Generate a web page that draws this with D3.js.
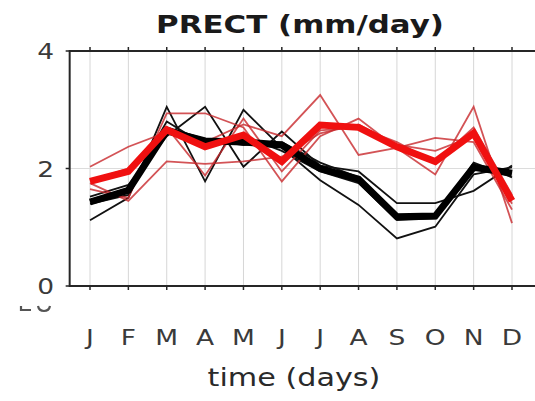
<!DOCTYPE html>
<html><head><meta charset="utf-8">
<script src="https://d3js.org/d3.v7.min.js"></script>
<style>html,body{margin:0;padding:0;background:#fff;overflow:hidden}</style>
</head><body>
<script>
const months = ["J","F","M","A","M","J","J","A","S","O","N","D"];
const yTicks = [0, 2, 4];
const title = "PRECT (mm/day)";
const xLabel = "time (days)";

const blackRun1 = [1.12, 1.50, 3.05, 1.78, 3.00, 2.35, 1.80, 1.38, 0.81, 1.01, 1.90, 2.02];
const blackRun2 = [1.52, 1.72, 2.55, 3.05, 2.03, 2.63, 2.05, 1.95, 1.41, 1.41, 1.62, 2.05];
const blackRun3 = [1.45, 1.65, 2.80, 2.40, 2.55, 2.30, 1.95, 1.75, 1.12, 1.15, 2.10, 1.85];
const blackRun4 = [1.40, 1.55, 2.70, 2.50, 2.40, 2.45, 2.10, 1.85, 1.20, 1.22, 2.05, 1.95];
const blackMean = [1.43, 1.63, 2.64, 2.47, 2.45, 2.40, 2.00, 1.82, 1.18, 1.19, 2.02, 1.92];

const redRun1 = [2.03, 2.37, 2.62, 2.45, 2.75, 2.55, 3.25, 2.23, 2.35, 2.52, 2.45, 1.30];
const redRun2 = [1.65, 1.50, 2.94, 2.94, 2.70, 1.78, 2.55, 2.85, 2.35, 1.90, 3.05, 1.07];
const redRun3 = [1.75, 1.45, 2.12, 2.08, 2.12, 2.20, 2.60, 2.75, 2.40, 2.30, 2.55, 1.40];
const redRun4 = [1.80, 2.00, 2.70, 1.88, 2.85, 1.95, 2.65, 2.70, 2.45, 2.10, 2.70, 1.55];
const redMean = [1.78, 1.95, 2.66, 2.37, 2.57, 2.12, 2.74, 2.70, 2.37, 2.12, 2.60, 1.45];

const W = 535, H = 401;
const SX = 1.26; // horizontal stretch of the original picture's text
const svg = d3.select("body").append("svg").attr("width", W).attr("height", H);

const x = d3.scaleLinear().domain([1, 12]).range([90, 512]);
const y = d3.scaleLinear().domain([0, 4]).range([286, 51]);
const x0 = x(0.47), x1 = W + 10;

// grid
svg.append("g").selectAll("line").data(months).join("line")
  .attr("x1", (d, i) => x(i + 1)).attr("x2", (d, i) => x(i + 1))
  .attr("y1", y(4)).attr("y2", y(0))
  .attr("stroke", "#d6d6d6").attr("stroke-width", 1);
svg.append("line").attr("x1", x0).attr("x2", x1).attr("y1", y(2)).attr("y2", y(2))
  .attr("stroke", "#dcdcdc").attr("stroke-width", 1);

const line = d3.line().x((d, i) => x(i + 1)).y(d => y(d));
const g = svg.append("g").attr("fill", "none").attr("stroke-linejoin", "miter").attr("stroke-linecap", "butt");
[blackRun1, blackRun2, blackRun3, blackRun4].forEach(s =>
  g.append("path").attr("d", line(s)).attr("stroke", "#111").attr("stroke-width", 1.8));
[redRun1, redRun2, redRun3, redRun4].forEach(s =>
  g.append("path").attr("d", line(s)).attr("stroke", "#c8282c").attr("stroke-opacity", 0.8).attr("stroke-width", 1.8));
g.append("path").attr("d", line(blackMean)).attr("stroke", "#000").attr("stroke-width", 7);
g.append("path").attr("d", line(redMean)).attr("stroke", "#f01010").attr("stroke-width", 7);

// axes frame
const axc = "#262626";
svg.append("line").attr("x1", x0).attr("x2", x1).attr("y1", y(4)).attr("y2", y(4)).attr("stroke", axc).attr("stroke-width", 2);
svg.append("line").attr("x1", x0).attr("x2", x1).attr("y1", y(0)).attr("y2", y(0)).attr("stroke", axc).attr("stroke-width", 2);
svg.append("line").attr("x1", x0).attr("x2", x0).attr("y1", y(4) - 1).attr("y2", y(0) + 1).attr("stroke", axc).attr("stroke-width", 2);

// ticks
const xt = svg.append("g").attr("stroke", axc).attr("stroke-width", 1.5);
months.forEach((m, i) => {
  xt.append("line").attr("x1", x(i + 1)).attr("x2", x(i + 1)).attr("y1", y(4)).attr("y2", y(4) - 4);
  xt.append("line").attr("x1", x(i + 1)).attr("x2", x(i + 1)).attr("y1", y(0)).attr("y2", y(0) + 4);
});
yTicks.forEach(t => xt.append("line").attr("x1", x0).attr("x2", x0 - 4).attr("y1", y(t)).attr("y2", y(t)));

function txt(px, py, s, size, anchor, weight, color) {
  return svg.append("text")
    .attr("transform", `translate(${px},${py}) scale(${SX},1)`)
    .attr("text-anchor", anchor)
    .attr("font-family", "DejaVu Sans, sans-serif")
    .attr("font-size", size).attr("font-weight", weight || "normal")
    .attr("fill", color || "#333").text(s);
}

// y tick labels
yTicks.forEach(t => txt(54, y(t) + 8, String(t), 21, "end", "normal", "#3a3a3a"));
// x tick labels
months.forEach((m, i) => txt(x(i + 1), 345, m, 21, "middle", "normal", "#3a3a3a"));
// title & label
txt(300, 33, title, 24.5, "middle", "bold", "#1a1a1a");
txt(294, 386, xLabel, 24, "middle", "normal", "#2a2a2a");

// illegible clipped remnant of a neighbouring panel's label (bottom edges of glyphs only)
const rem = svg.append("g").attr("fill", "none").attr("stroke", "#555").attr("stroke-width", 2.2);
rem.append("path").attr("d", "M21,306 L21,310 L31,310");
rem.append("path").attr("d", "M38,306 Q39,311 44,311 Q49,311 50,306");
</script>
</body></html>
